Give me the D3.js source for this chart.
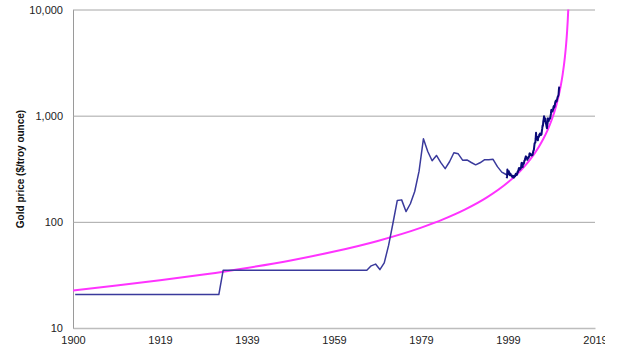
<!DOCTYPE html>
<html><head><meta charset="utf-8">
<script src="https://cdn.jsdelivr.net/npm/d3@7"></script>
<style>
html,body{margin:0;padding:0;background:#fff;}
svg{display:block;}
text{font-family:"Liberation Sans",Arial,sans-serif;}
</style></head><body>
<svg id="chart" width="605" height="358"></svg>
<script>
// ---- data ----
const xTickLabels = ["1900","1919","1939","1959","1979","1999","2019"];
const yTickValues = [10, 100, 1000, 10000];
const yTitle = "Gold price ($/troy ounce)";

// annual average gold price (mid-year), $/oz
const annualYears  = [1900.5,1933.5,1934.5,1967.5,1968.5,1969.5,1970.5,1971.5,1972.5,1973.5,1974.5,1975.5,1976.5,1977.5,1978.5,1979.5,1980.5,1981.5,1982.5,1983.5,1984.5,1985.5,1986.5,1987.5,1988.5,1989.5,1990.5,1991.5,1992.5,1993.5,1994.5,1995.5,1996.5,1997.5,1998.5,1999.5,2000.5];
const annualPrices = [20.67,20.67,35,35,38.5,40,35.5,41,60,97,159,161,125,148,193,300,605,460,376,422,361,317,368,447,437,381,383,362,344,360,384,384,388,331,294,279,279];

// monthly gold price, Aug 1999 .. Sep 2011
const monthlyStart = [1999, 8];
const monthlyPrices = [
  257,265,311,293,284,
  284,300,286,280,275,285,282,274,273,270,266,272,
  266,262,263,261,272,270,268,273,283,283,276,276,
  282,296,294,302,314,321,314,310,319,317,319,333,
  357,359,340,328,355,356,351,360,379,379,390,407,
  414,405,406,404,384,392,398,400,406,420,439,442,
  424,423,434,429,422,430,424,438,456,470,476,510,
  549,555,557,610,690,596,633,632,598,586,628,629,
  631,665,655,679,667,655,665,665,713,754,806,803,
  889,923,985,909,888,890,940,839,829,790,760,816,
  858,943,924,890,928,946,934,949,996,1043,1127,1134,
  1118,1095,1113,1149,1205,1233,1193,1215,1271,1343,1370,1391,
  1356,1372,1424,1473,1512,1529,1573,1756,1880
];

// hyperbolic trend curve (magenta)
const trendYears  = [1900,1910,1920,1930,1940,1950,1960,1970,1980,1985,1990,1995,2000,2003,2005,2007,2008,2009,2010,2011,2011.5,2012,2012.5,2013,2013.25,2013.5,2013.65,2013.8];
const trendValues = [22.6,25.1,28.1,31.9,36.8,43.3,52.5,66.1,88.2,105.4,130.2,168.9,237,309,385,507,599,728,921,1243,1496,1869,2465,3561,4533,6163,7794,10484];

// ---- chart ----
const L = 73, R = 595, T = 9.5, B = 328;
const svg = d3.select("#chart");

const tickStep = 7300 / 365.25; // 20*365-day major unit
const xTickValues = xTickLabels.map((d, i) => 1900 + i * tickStep);
const x = d3.scaleLinear().domain([1900, xTickValues[xTickValues.length - 1]]).range([L, R]);
const y = d3.scaleLog().domain([10, 10000]).range([B, T]);

svg.append("defs").append("clipPath").attr("id", "plot")
  .append("rect").attr("x", L).attr("y", T).attr("width", R - L).attr("height", B - T);

// y axis with gridlines
const yAxis = svg.append("g").attr("transform", `translate(${L},0)`)
  .call(d3.axisLeft(y).tickValues(yTickValues).tickFormat(d3.format(","))
    .tickSizeInner(-(R - L)).tickSizeOuter(0).tickPadding(10));
yAxis.select(".domain").attr("stroke", "#9a9a9a").attr("stroke-width", 1);
yAxis.selectAll(".tick line").attr("stroke", "#a6a6a6").attr("stroke-width", 1);
yAxis.selectAll(".tick text").attr("font-size", 11).attr("fill", "#222")
  .attr("font-family", "'Liberation Sans', Arial, sans-serif");

// x axis
const xAxis = svg.append("g").attr("transform", `translate(0,${B})`)
  .call(d3.axisBottom(x).tickValues(xTickValues).tickFormat((d, i) => xTickLabels[i])
    .tickSize(0).tickPadding(8));
xAxis.select(".domain").attr("stroke", "#bdbdbd").attr("stroke-width", 1.5);
xAxis.selectAll(".tick text").attr("font-size", 11).attr("fill", "#222")
  .attr("font-family", "'Liberation Sans', Arial, sans-serif");

// y title
svg.append("text")
  .attr("transform", `translate(20,169) rotate(-90)`)
  .attr("text-anchor", "middle").attr("dominant-baseline", "central")
  .attr("font-size", 10).attr("font-weight", "bold").attr("fill", "#111")
  .text(yTitle);

const plot = svg.append("g").attr("clip-path", "url(#plot)");

// trend
const trendData = trendYears.map((t, i) => [t, trendValues[i]]);
plot.append("path").datum(trendData)
  .attr("fill", "none").attr("stroke", "#ff33ff").attr("stroke-width", 2)
  .attr("d", d3.line().x(d => x(d[0])).y(d => y(d[1])).curve(d3.curveMonotoneX));

// annual gold
const annualData = annualYears.map((t, i) => [t, annualPrices[i]]);
plot.append("path").datum(annualData)
  .attr("fill", "none").attr("stroke", "#3a3a9c").attr("stroke-width", 1.5)
  .attr("stroke-linejoin", "round")
  .attr("d", d3.line().x(d => x(d[0])).y(d => y(d[1])));

// monthly gold
const monthlyData = monthlyPrices.map((v, i) => [monthlyStart[0] + (monthlyStart[1] - 1 + i + 0.5) / 12, v]);
plot.append("path").datum(monthlyData)
  .attr("fill", "none").attr("stroke", "#0a0a78").attr("stroke-width", 2)
  .attr("stroke-linejoin", "round")
  .attr("d", d3.line().x(d => x(d[0])).y(d => y(d[1])));
</script>
</body></html>
